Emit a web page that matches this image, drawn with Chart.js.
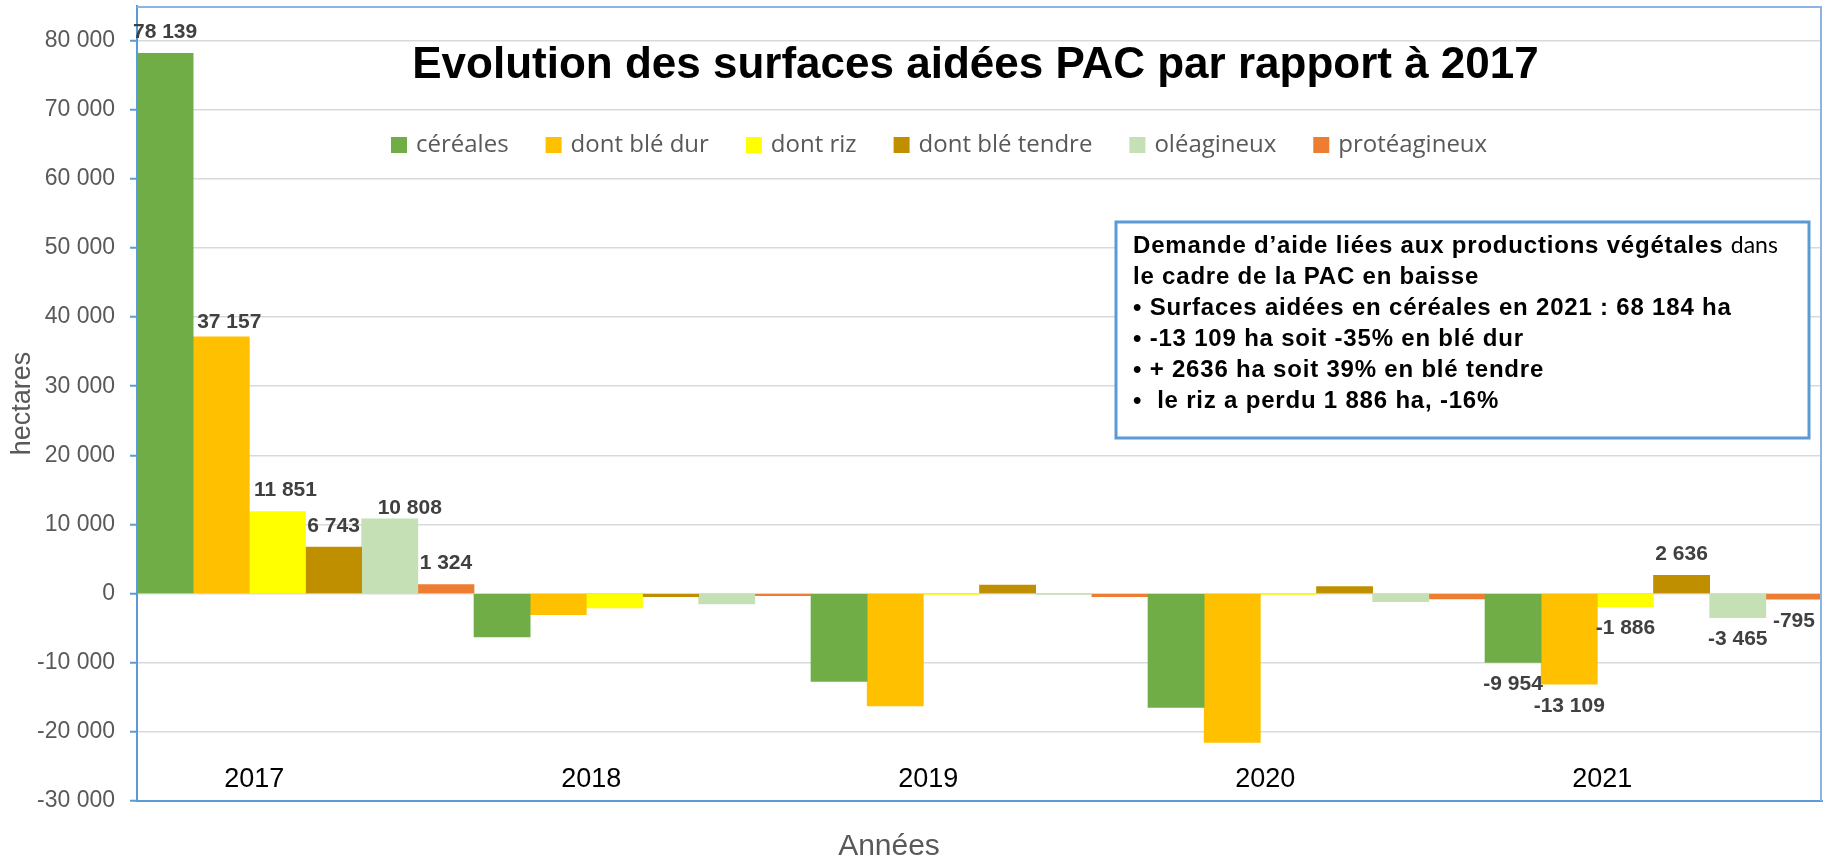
<!DOCTYPE html>
<html>
<head>
<meta charset="utf-8">
<script src="https://cdn.jsdelivr.net/npm/chart.js@4.4.0/dist/chart.umd.min.js"></script>
<style>
  html, body { margin: 0; padding: 0; background: #ffffff; }
  #wrap { position: relative; width: 1823px; height: 864px; }
</style>
</head>
<body>
<div id="wrap"><canvas id="c"></canvas></div>
<script>
// ---------------- DATA ----------------
const years = ['2017', '2018', '2019', '2020', '2021'];
const seriesNames = ['céréales', 'dont blé dur', 'dont riz', 'dont blé tendre', 'oléagineux', 'protéagineux'];
const cereales     = [78139,  -6260, -12720, -16470,  -9954];
const bleDur       = [37157,  -3035, -16230, -21530, -13109];
const riz          = [11851,  -2080,    -60,    -50,  -1886];
const bleTendre    = [ 6743,   -430,   1250,   1010,   2636];
const oleagineux   = [10808,  -1490,    -80,  -1160,  -3465];
const proteagineux = [ 1324,   -290,   -430,   -770,   -795];
const labeledYears = ['2017', '2021'];
const yTicks = [-30000, -20000, -10000, 0, 10000, 20000, 30000, 40000, 50000, 60000, 70000, 80000];
const yAxisMin = -30000, yAxisMax = 85000;

const chartTitle = 'Evolution des surfaces aidées PAC par rapport à 2017';
const yTitle = 'hectares';
const xTitle = 'Années';
const BOLD_NOTE = 'bold 24px "Liberation Sans", Arial, sans-serif';
const noteLines = [
  [{ t: 'Demande d\u2019aide liées aux productions végétales ', f: BOLD_NOTE },
   { t: 'dans', f: '23px Lato, "Liberation Sans", sans-serif', ls: '0px' }],
  [{ t: 'le cadre de la PAC en baisse', f: BOLD_NOTE }],
  [{ t: '\u2022 Surfaces aidées en céréales en 2021 : 68 184 ha', f: BOLD_NOTE }],
  [{ t: '\u2022 -13 109 ha soit -35% en blé dur', f: BOLD_NOTE }],
  [{ t: '\u2022 + 2636 ha soit 39% en blé tendre', f: BOLD_NOTE }],
  [{ t: '\u2022  le riz a perdu 1 886 ha, -16%', f: BOLD_NOTE }]
];

// ---------------- STYLE ----------------
const seriesColors = ['#70AD47', '#FFC000', '#FFFF00', '#BF8F00', '#C5E0B4', '#ED7D31'];
const axisBlue = '#5B9BD5';
const FONT = '"Liberation Sans", Arial, sans-serif';
// per-label nudges (px) for the 2017 labels, as placed in the original
const nudge2017 = [[0, 0], [8, 6], [8, 0], [0, 0], [20, 10], [0, 0]];

function fmt(v) {
  const s = Math.abs(Math.round(v)).toString().replace(/\B(?=(\d{3})+(?!\d))/g, ' ');
  return (v < 0 ? '-' : '') + s;
}

const seriesValues = [cereales, bleDur, riz, bleTendre, oleagineux, proteagineux];

const decor = {
  id: 'decor',
  afterDatasetsDraw(chart) {
    const { ctx, chartArea: a, scales: { x } } = chart;
    ctx.save();
    // top & right plot border
    ctx.strokeStyle = '#8DB4E2';
    ctx.lineWidth = 2;
    ctx.beginPath();
    ctx.moveTo(a.left, a.top + 1);
    ctx.lineTo(a.right - 1, a.top + 1);
    ctx.lineTo(a.right - 1, a.bottom);
    ctx.stroke();

    // data labels
    ctx.font = 'bold 21px ' + FONT;
    ctx.fillStyle = '#404040';
    ctx.textAlign = 'center';
    ctx.textBaseline = 'middle';
    chart.data.datasets.forEach((ds, di) => {
      const meta = chart.getDatasetMeta(di);
      labeledYears.forEach(yr => {
        const i = years.indexOf(yr);
        const el = meta.data[i];
        const v = ds.data[i];
        let lx = el.x, ly = v >= 0 ? el.y - 21 : el.y + 22;
        if (i === 0) { lx += nudge2017[di][0]; ly += nudge2017[di][1]; }
        ctx.fillText(fmt(v), lx, ly);
      });
    });

    // category labels (placed low, inside plot)
    const bw = chart.getDatasetMeta(0).data[0].width;
    ctx.font = '27px ' + FONT;
    ctx.fillStyle = '#000000';
    years.forEach((yr, i) => {
      ctx.fillText(yr, x.getPixelForValue(i) - bw + 5, a.bottom - 21);
    });

    // title
    ctx.font = 'bold 44px ' + FONT;
    ctx.fillStyle = '#000000';
    ctx.fillText(chartTitle, (a.left + a.right) / 2 - 4, a.top + 60);

    // legend
    ctx.font = '24px "Open Sans", sans-serif';
    ctx.textAlign = 'left';
    let lxp = a.left + 254;
    const ly = a.top + 139;
    chart.data.datasets.forEach((ds) => {
      ctx.fillStyle = ds.backgroundColor;
      ctx.fillRect(lxp, ly - 8, 16, 16);
      ctx.fillStyle = '#595959';
      ctx.fillText(ds.label, lxp + 25, ly);
      lxp += 25 + ctx.measureText(ds.label).width + 37;
    });

    // note box
    const bx = a.left + 979, by = a.top + 216, bwid = 693, bh = 216;
    ctx.fillStyle = '#ffffff';
    ctx.fillRect(bx, by, bwid, bh);
    ctx.strokeStyle = axisBlue;
    ctx.lineWidth = 3;
    ctx.strokeRect(bx, by, bwid, bh);
    ctx.fillStyle = '#000000';
    ctx.textBaseline = 'alphabetic';
    noteLines.forEach((line, li) => {
      let tx = bx + 17;
      const ty = by + 31 + li * 31;
      line.forEach(seg => {
        ctx.font = seg.f;
        ctx.letterSpacing = seg.ls || '0.8px';
        ctx.fillText(seg.t, tx, ty);
        tx += ctx.measureText(seg.t).width;
      });
    });
    ctx.letterSpacing = '0px';
    ctx.restore();
  },
  afterDraw(chart) {
    const { ctx, chartArea: a } = chart;
    ctx.save();
    ctx.font = '30px ' + FONT;
    ctx.fillStyle = '#595959';
    ctx.textAlign = 'center';
    ctx.textBaseline = 'middle';
    ctx.fillText(xTitle, a.left + 752, chart.height - 17);
    ctx.restore();
  }
};

new Chart(document.getElementById('c'), {
  type: 'bar',
  data: {
    labels: years,
    datasets: seriesNames.map((n, i) => ({
      label: n,
      data: seriesValues[i],
      backgroundColor: seriesColors[i],
      borderWidth: 0,
      barPercentage: 1,
      categoryPercentage: 1
    }))
  },
  options: {
    responsive: true,
    maintainAspectRatio: false,
    animation: false,
    layout: { padding: { left: 0, right: 1, top: 6, bottom: 0 } },
    plugins: {
      legend: { display: false },
      tooltip: { enabled: false },
      title: { display: false }
    },
    scales: {
      x: {
        grid: { display: false, drawTicks: false },
        border: { display: true, color: axisBlue, width: 2 },
        ticks: { display: false },
        afterFit(s) { s.height = 63; s.paddingLeft = 0; s.paddingRight = 0; }
      },
      y: {
        min: yAxisMin,
        max: yAxisMax,
        afterBuildTicks(s) { s.ticks = yTicks.map(v => ({ value: v })); },
        afterFit(s) { s.width = 137; s.paddingTop = 0; s.paddingBottom = 0; },
        grid: { color: '#D9D9D9', lineWidth: 1.5, tickColor: axisBlue, tickLength: 7, tickWidth: 2 },
        border: { display: true, color: axisBlue, width: 2 },
        ticks: {
          padding: 15,
          color: '#595959',
          font: { family: FONT, size: 23 },
          callback: (v) => fmt(v)
        },
        title: {
          display: true,
          text: yTitle,
          color: '#595959',
          font: { family: FONT, size: 27, lineHeight: 1 },
          padding: { top: 9.5, bottom: 0 }
        }
      }
    }
  },
  plugins: [decor]
});
</script>
</body>
</html>
